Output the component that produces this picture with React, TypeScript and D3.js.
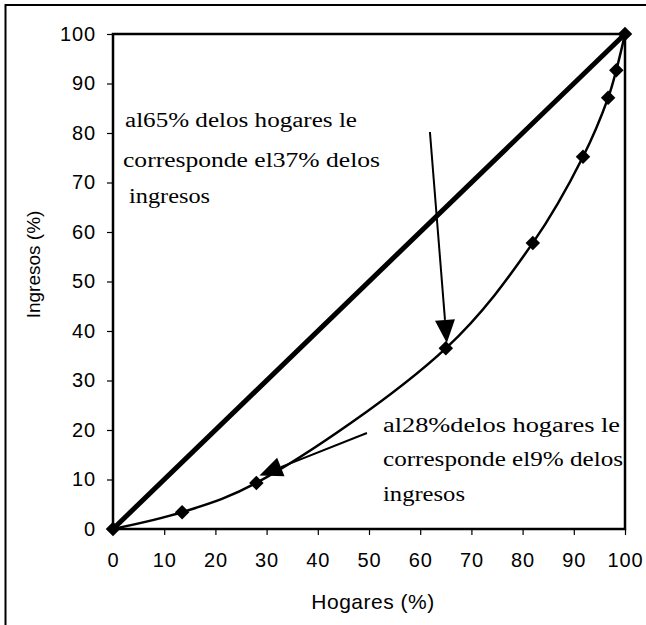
import React, { useRef, useEffect } from 'react'
import * as d3 from 'd3'

// datos de la curva de Lorenz (hogares %, ingresos %)
const hogares = [0, 13.5, 28, 65, 82, 91.8, 96.7, 98.3, 100]
const ingresos = [0, 3.4, 9.3, 36.5, 57.8, 75.2, 87.1, 92.7, 100]
const equidad = [[0, 0], [100, 100]]
const ticks = [0, 10, 20, 30, 40, 50, 60, 70, 80, 90, 100]

// anotaciones: lineas de texto y flechas (en unidades de datos)
const nota1 = ['al65% delos hogares le', 'corresponde el37% delos', ' ingresos']
const nota2 = ['al28%delos hogares le', 'corresponde el9% delos', 'ingresos']
const flecha1 = { from: [61.9, 80.2], to: [65.2, 37.6] }
const flecha2 = { from: [49.6, 19.4], to: [28.6, 10.8] }

const SANS = "'Liberation Sans', Arial, sans-serif"
const SERIF = "'Liberation Serif', 'Times New Roman', serif"

export default function App() {
    const svgRef = useRef(null)
    const width = 646
    const height = 625
    const margin = { top: 34, right: 21, bottom: 96, left: 113 }

    useEffect(() => {
        draw()
    }, [])

    const draw = () => {
        const svg = d3.select(svgRef.current)
        svg.selectAll('*').remove()

        const x = d3.scaleLinear().domain([0, 100]).range([margin.left, width - margin.right])
        const y = d3.scaleLinear().domain([0, 100]).range([height - margin.bottom, margin.top])

        // marco exterior
        svg.append('rect')
            .attr('x', 5.5).attr('y', 5)
            .attr('width', 800).attr('height', 800)
            .attr('fill', 'none').attr('stroke', '#000').attr('stroke-width', 2)

        // ejes
        const yAxis = g => g
            .attr('transform', `translate(${margin.left},0)`)
            .call(d3.axisLeft(y).tickValues(ticks).tickSize(6).tickPadding(11))
            .call(g => g.select('.domain').remove())
            .call(g => g.selectAll('line').attr('stroke-width', 1.2))
            .call(g => g.selectAll('text')
                .style('font-family', SANS)
                .style('font-size', '20px')
                .attr('letter-spacing', 0.9)
                .attr('fill', '#000'))

        const xAxis = g => g
            .attr('transform', `translate(0,${height - margin.bottom})`)
            .call(d3.axisBottom(x).tickValues(ticks).tickSize(6).tickPadding(18))
            .call(g => g.select('.domain').remove())
            .call(g => g.selectAll('line').attr('stroke-width', 1.2))
            .call(g => g.selectAll('text')
                .style('font-family', SANS)
                .style('font-size', '20px')
                .attr('letter-spacing', 0.9)
                .attr('fill', '#000'))

        svg.append('g').call(yAxis)
        svg.append('g').call(xAxis)

        // marco del area de trazado
        svg.append('rect')
            .attr('x', x(0)).attr('y', y(100))
            .attr('width', x(100) - x(0)).attr('height', y(0) - y(100))
            .attr('fill', 'none').attr('stroke', '#000').attr('stroke-width', 2.5)

        // titulos
        svg.append('text')
            .attr('x', (x(0) + x(100)) / 2 + 4).attr('y', 609)
            .attr('text-anchor', 'middle')
            .style('font-family', SANS)
            .style('font-size', '21px')
            .attr('letter-spacing', 0.5)
            .text('Hogares (%)')
        svg.append('text')
            .attr('transform', `translate(40,${(y(0) + y(100)) / 2 - 17}) rotate(-90)`)
            .attr('text-anchor', 'middle')
            .style('font-family', SANS)
            .style('font-size', '19px')
            .text('Ingresos (%)')

        // linea de equidad
        svg.append('path')
            .datum(equidad)
            .attr('d', d3.line().x(d => x(d[0])).y(d => y(d[1])))
            .attr('fill', 'none').attr('stroke', '#000').attr('stroke-width', 5)

        // curva de Lorenz
        const puntos = hogares.map((h, i) => [h, ingresos[i]])
        svg.append('path')
            .datum(puntos)
            .attr('d', d3.line().x(d => x(d[0])).y(d => y(d[1])).curve(d3.curveCatmullRom.alpha(0.5)))
            .attr('fill', 'none').attr('stroke', '#000').attr('stroke-width', 2.5)

        svg.append('g')
            .selectAll('path')
            .data(puntos)
            .join('path')
            .attr('d', d3.symbol(d3.symbolSquare, 105))
            .attr('transform', d => `translate(${x(d[0])},${y(d[1])}) rotate(45)`)
            .attr('fill', '#000')

        // flechas
        const flecha = f => {
            const x1 = x(f.from[0]), y1 = y(f.from[1])
            const x2 = x(f.to[0]), y2 = y(f.to[1])
            const ang = Math.atan2(y2 - y1, x2 - x1)
            const len = 23, half = 10
            const bx = x2 - len * Math.cos(ang), by = y2 - len * Math.sin(ang)
            const px = -Math.sin(ang) * half, py = Math.cos(ang) * half
            svg.append('line')
                .attr('x1', x1).attr('y1', y1).attr('x2', bx).attr('y2', by)
                .attr('stroke', '#000').attr('stroke-width', 2)
            svg.append('path')
                .attr('d', `M${x2},${y2}L${bx + px},${by + py}L${bx - px},${by - py}Z`)
                .attr('fill', '#000')
        }
        flecha(flecha1)
        flecha(flecha2)

        // textos de las anotaciones
        const nota = (lineas, xs, ys, anchos) => {
            svg.append('g')
                .selectAll('text')
                .data(lineas)
                .join('text')
                .attr('x', (d, i) => xs[i])
                .attr('y', (d, i) => ys[i])
                .style('font-family', SERIF)
                .style('font-size', '20px')
                .attr('textLength', (d, i) => anchos[i])
                .attr('lengthAdjust', 'spacingAndGlyphs')
                .attr('xml:space', 'preserve')
                .text(d => d)
        }
        nota(nota1, [125, 123, 123], [127, 167, 203], [232, 257, 87])
        nota(nota2, [383, 383, 383], [432, 466, 501], [237, 240, 82])
    }

    return (
        <svg
            ref={svgRef}
            width={width}
            height={height}
            style={{ position: 'absolute', left: 0, top: 0, background: '#fff' }}
        ></svg>
    )
}
